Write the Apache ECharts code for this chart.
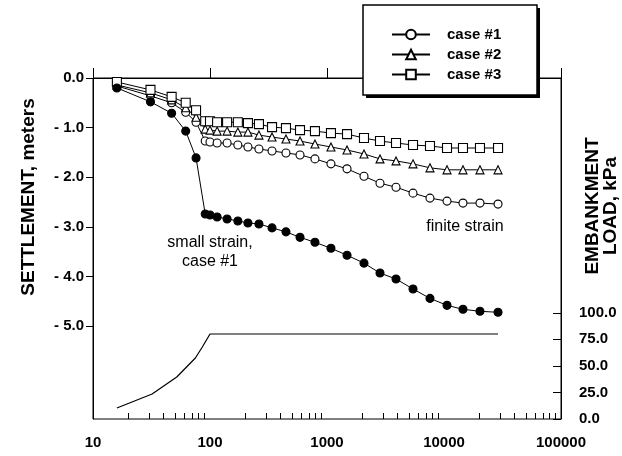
<!DOCTYPE html>
<html><head><meta charset="utf-8">
<script src="https://cdn.jsdelivr.net/npm/echarts@6/dist/echarts.min.js"></script>
<style>html,body{margin:0;padding:0;background:#fff}#c{width:622px;height:456px}</style>
</head><body><div id="c"></div>
<script>
// time (days) shared by all settlement series
const times = [16,31,47,62,76,91,100,115,140,173,211,262,339,446,588,789,1081,1483,2071,2838,3890,5435,7590,10610,14530,20300,28960];
const case1 = [-0.16,-0.36,-0.50,-0.69,-0.89,-1.27,-1.29,-1.31,-1.31,-1.35,-1.39,-1.43,-1.47,-1.51,-1.55,-1.63,-1.73,-1.83,-1.98,-2.12,-2.20,-2.32,-2.42,-2.48,-2.52,-2.52,-2.54];
const case2 = [-0.14,-0.30,-0.44,-0.60,-0.79,-1.03,-1.05,-1.07,-1.07,-1.09,-1.09,-1.15,-1.19,-1.23,-1.27,-1.33,-1.39,-1.45,-1.53,-1.63,-1.67,-1.73,-1.81,-1.85,-1.85,-1.85,-1.85];
const case3 = [-0.08,-0.24,-0.38,-0.50,-0.65,-0.87,-0.87,-0.89,-0.89,-0.89,-0.91,-0.93,-0.99,-1.01,-1.05,-1.07,-1.11,-1.13,-1.21,-1.27,-1.31,-1.35,-1.37,-1.41,-1.41,-1.41,-1.41];
const smallStrain = [-0.20,-0.48,-0.71,-1.07,-1.61,-2.74,-2.76,-2.80,-2.84,-2.88,-2.92,-2.94,-3.02,-3.10,-3.21,-3.31,-3.43,-3.57,-3.73,-3.93,-4.05,-4.25,-4.44,-4.58,-4.66,-4.70,-4.72];
const loadTimes = [16,32,52,75,86,100,28960];
const loadValues = [10.4,23.5,39.5,57.4,67.8,80,80];
const settleTicks = [0,-1,-2,-3,-4,-5];
const loadTicks = [0,25,50,75,100];
const xMajor = [10,100,1000,10000,100000];
const xMinor = [];
for (let d = 10; d < 100000; d *= 10) for (let k = 2; k <= 9; k++) xMinor.push(d * k);

const FONT = 'Liberation Sans, Arial, sans-serif';
const pair = (xs, ys) => xs.map((x, i) => [x, ys[i]]);
const lineSeries = (name, data, symbol, size, fill) => ({
  name, type: 'line', data, xAxisIndex: 0, yAxisIndex: 0,
  symbol, symbolSize: size, showSymbol: true,
  lineStyle: {color: '#000', width: 1},
  itemStyle: {color: fill, borderColor: '#000', borderWidth: 1.1},
  emphasis: {disabled: true}, animation: false, z: 3
});

const chart = echarts.init(document.getElementById('c'), null, {renderer: 'canvas'});
chart.setOption({
  animation: false,
  backgroundColor: '#fff',
  grid: {left: 93, right: 61, top: 78, bottom: 37, show: true, borderColor: '#000', borderWidth: 1, containLabel: false},
  xAxis: [
    {type: 'log', logBase: 10, min: 10, max: 100000, position: 'bottom',
     axisLine: {lineStyle: {color: '#000', width: 1}},
     axisTick: {inside: true, length: 10, lineStyle: {color: '#000'}, customValues: xMajor},
     axisLabel: {color: '#000', fontFamily: FONT, fontSize: 15, fontWeight: 'bold', margin: 16, customValues: xMajor,
       formatter: v => String(Math.round(v))},
     splitLine: {show: false}},
    {type: 'log', logBase: 10, min: 10, max: 100000, position: 'bottom',
     axisLine: {show: false},
     axisTick: {inside: true, length: 6, lineStyle: {color: '#000'}, customValues: xMinor},
     axisLabel: {show: false}, splitLine: {show: false}}
  ],
  yAxis: [
    {type: 'value', min: -6.87, max: 0, position: 'left',
     axisLine: {show: true, lineStyle: {color: '#000'}},
     axisTick: {show: true, inside: false, length: 7, lineStyle: {color: '#000'}, customValues: settleTicks},
     axisLabel: {color: '#000', fontFamily: FONT, fontSize: 15, fontWeight: 'bold', margin: 9,
       customValues: settleTicks, formatter: v => (Math.abs(v) < 1e-9 ? 0 : v).toFixed(1).replace('-', '- ')},
     splitLine: {show: false}},
    {type: 'value', min: 0, max: 321, position: 'right',
     axisLine: {show: true, lineStyle: {color: '#000'}},
     axisTick: {show: true, inside: true, length: 8, lineStyle: {color: '#000'}, customValues: loadTicks},
     axisLabel: {color: '#000', fontFamily: FONT, fontSize: 15, fontWeight: 'bold', margin: 18,
       customValues: loadTicks, formatter: v => v.toFixed(1)},
     splitLine: {show: false}}
  ],
  legend: {
    show: true, orient: 'vertical', left: 386, top: 21, z: 20,
    itemWidth: 38, itemHeight: 12, itemGap: 3,
    data: ['case #1', 'case #2', 'case #3'],
    textStyle: {color: '#000', fontFamily: FONT, fontSize: 15, fontWeight: 'bold', padding: [0, 0, 0, 12], lineHeight: 17},
    selectedMode: false
  },
  graphic: [
    {type: 'rect', z: 15, shape: {x: 366, y: 8, width: 174, height: 90}, style: {fill: '#000'}},
    {type: 'rect', z: 16, shape: {x: 363, y: 5, width: 174, height: 90}, style: {fill: '#fff', stroke: '#000', lineWidth: 1.5}},
    {type: 'text', z: 5, rotation: Math.PI / 2, x: 29, y: 197,
     style: {text: 'SETTLEMENT, meters', font: 'bold 19px ' + FONT, fill: '#000', align: 'center', verticalAlign: 'middle'}},
    {type: 'text', z: 5, style: {text: 'small strain,\ncase #1', font: '16px ' + FONT, fill: '#000', align: 'center', verticalAlign: 'middle', lineHeight: 19}, x: 210, y: 252},
    {type: 'text', z: 5, style: {text: 'finite strain', font: '16px ' + FONT, fill: '#000', align: 'center', verticalAlign: 'middle'}, x: 465, y: 227},
    {type: 'text', z: 5, rotation: Math.PI / 2, x: 593, y: 206,
     style: {text: 'EMBANKMENT', font: 'bold 19px ' + FONT, fill: '#000', align: 'center', verticalAlign: 'middle'}},
    {type: 'text', z: 5, rotation: Math.PI / 2, x: 611, y: 206,
     style: {text: 'LOAD, kPa', font: 'bold 19px ' + FONT, fill: '#000', align: 'center', verticalAlign: 'middle'}}
  ],
  series: [
    lineSeries('case #1', pair(times, case1), 'circle', 8, '#fff'),
    lineSeries('case #2', pair(times, case2), 'triangle', 8, '#fff'),
    lineSeries('case #3', pair(times, case3), 'rect', 9, '#fff'),
    lineSeries('small strain', pair(times, smallStrain), 'circle', 8, '#000'),
    {name: 'load', type: 'line', xAxisIndex: 0, yAxisIndex: 1, data: pair(loadTimes, loadValues),
     symbol: 'none', smooth: false, lineStyle: {color: '#000', width: 1.2}, animation: false, z: 3}
  ]
});
</script></body></html>
